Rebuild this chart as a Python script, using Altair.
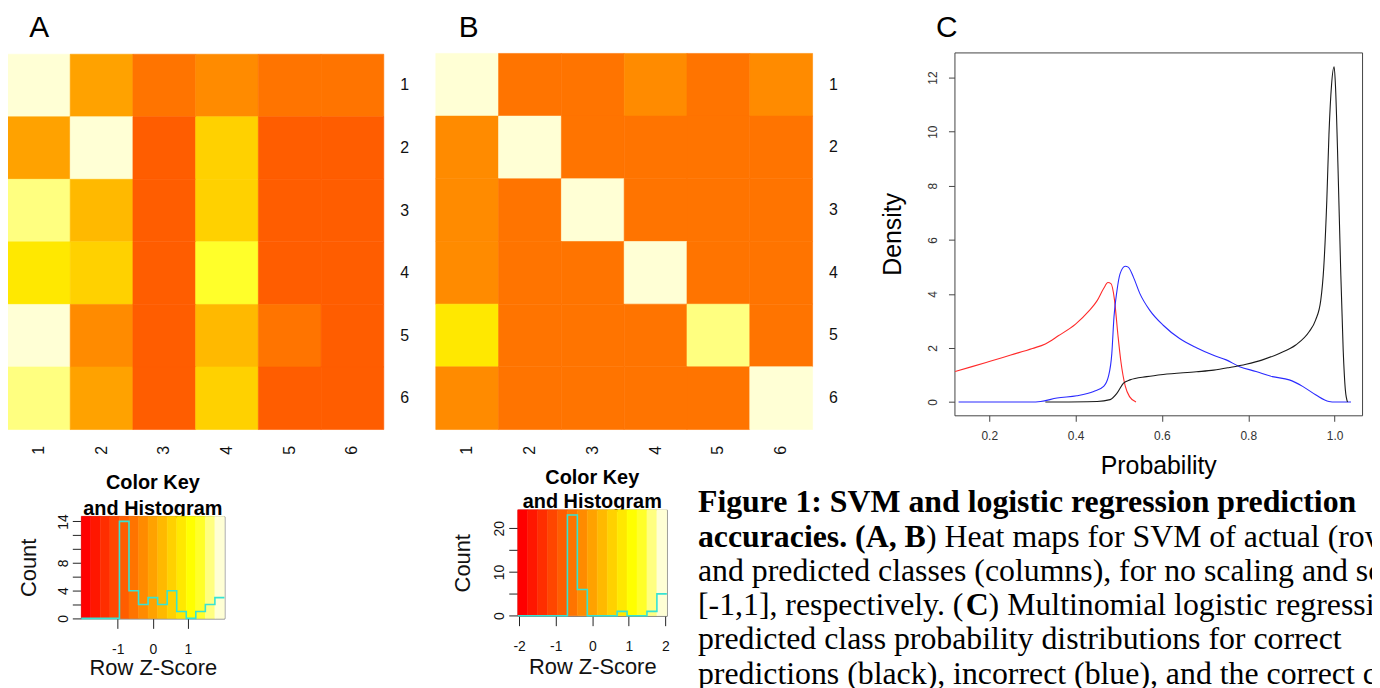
import altair as alt
import numpy as np
import pandas as pd

# ---------------- data ----------------
classes = ["1", "2", "3", "4", "5", "6"]

# Row z-scores of the SVM confusion matrices (rows = actual, columns = predicted)
zscore_a = [
    [1.92, 0.02, -0.52, -0.30, -0.55, -0.57],
    [0.05, 1.90, -0.80, 0.55, -0.85, -0.85],
    [1.62, 0.25, -0.82, 0.52, -0.78, -0.79],
    [0.80, 0.50, -0.83, 1.35, -0.86, -0.86],
    [1.90, -0.28, -0.84, 0.28, -0.55, -0.82],
    [1.60, 0.05, -0.82, 0.55, -0.80, -0.80],
]
zscore_b = [
    [2.00, -0.50, -0.50, -0.30, -0.50, -0.30],
    [-0.30, 2.00, -0.45, -0.45, -0.45, -0.45],
    [-0.30, -0.45, 2.00, -0.45, -0.45, -0.45],
    [-0.30, -0.45, -0.45, 2.00, -0.45, -0.45],
    [0.80, -0.60, -0.60, -0.60, 1.60, -0.60],
    [-0.30, -0.45, -0.45, -0.45, -0.45, 2.00],
]
z_limit = 2.04
n_bins = 15
heat_colors = ["#FF0000", "#FF1700", "#FF2E00", "#FF4600", "#FF5D00", "#FF7400",
               "#FF8B00", "#FFA200", "#FFB900", "#FFD100", "#FFE800", "#FFFF00",
               "#FFFF2A", "#FFFF80", "#FFFFD5"]

key_ticks_a = [-1, 0, 1]
key_ticks_b = [-2, -1, 0, 1, 2]
count_ticks_a = [0, 2, 4, 6, 8, 10, 12, 14]
count_labels_a = [0, 4, 8, 14]
count_ticks_b = [0, 5, 10, 15, 20]
count_labels_b = [0, 10, 20]

# Panel C: density of predicted class probability
correct_x = [0.33, 0.45, 0.48, 0.496, 0.511, 0.526, 0.565, 0.603, 0.68, 0.72, 0.757, 0.795,
             0.833, 0.872, 0.91, 0.941, 0.956, 0.968, 0.975, 0.982, 0.987, 0.993, 0.999,
             1.002, 1.008, 1.014, 1.020, 1.025, 1.030]
correct_y = [0.0, 0.02, 0.09, 0.33, 0.70, 0.82, 0.94, 1.02, 1.12, 1.18, 1.28, 1.40,
             1.56, 1.80, 2.11, 2.60, 3.03, 3.76, 4.99, 7.44, 9.89, 11.73, 12.40,
             11.73, 8.66, 4.99, 1.92, 0.45, 0.0]
incorrect_x = [0.129, 0.296, 0.319, 0.357, 0.403, 0.442, 0.465, 0.476, 0.484, 0.489, 0.496,
               0.503, 0.515, 0.522, 0.534, 0.549, 0.572, 0.603, 0.641, 0.68, 0.718, 0.749,
               0.78, 0.818, 0.856, 0.895, 0.926, 0.956, 0.987, 1.002, 1.038]
incorrect_y = [0.0, 0.0, 0.02, 0.15, 0.23, 0.39, 0.58, 0.94, 1.80, 3.15, 4.13,
               4.74, 5.02, 4.99, 4.62, 4.01, 3.39, 2.84, 2.35, 2.01, 1.74, 1.56,
               1.31, 1.13, 0.94, 0.82, 0.58, 0.27, 0.02, 0.0, 0.0]
other_x = [0.121, 0.16, 0.20, 0.25, 0.30, 0.33, 0.36, 0.40, 0.43, 0.45, 0.465, 0.475,
           0.482, 0.49, 0.498, 0.505, 0.515, 0.525, 0.54]
other_y = [1.13, 1.31, 1.50, 1.74, 1.98, 2.15, 2.45, 2.88, 3.35, 3.75, 4.20, 4.42,
           4.38, 3.80, 2.50, 1.50, 0.60, 0.20, 0.0]
prob_ticks = [0.2, 0.4, 0.6, 0.8, 1.0]
density_ticks = [0, 2, 4, 6, 8, 10, 12]
prob_limits = [0.1194, 1.0637]
density_limits = [-0.49, 12.93]

caption_lines = [
    [("Figure 1: SVM and logistic regression prediction", "bold")],
    [("accuracies. (A, B", "bold"), (") Heat maps for SVM of actual (rows)", "normal")],
    [("and predicted classes (columns), for no scaling and scaling to", "normal")],
    [("[-1,1], respectively. (", "normal"), ("C", "bold"), (") Multinomial logistic regression", "normal")],
    [("predicted class probability distributions for correct", "normal")],
    [("predictions (black), incorrect (blue), and the correct class", "normal")],
]

# ---------------- layout (page pixels) ----------------
M = 8
W, H = 1372, 680
SANS = "Liberation Sans"
SERIF = "Liberation Serif"
CAPTION_SIZE = 32
HM_A = dict(x0=7.5, x1=386.0, y0=52.5, y1=430.0)
HM_B = dict(x0=438.3, x1=817.3, y0=51.7, y1=430.0)
KEY_A = dict(x0=81.7, x1=225.7, y0=517.3, y1=620.0)
KEY_B = dict(x0=520.7, x1=670.7, y0=510.7, y1=617.3)
C_BOX = dict(x0=960.0, x1=1370.0, y0=50.7, y1=415.7)
caption_left = 702
caption_baseline = [513, 548, 582, 617, 651, 686]

# advance widths (1/1000 em) of the serif font, used to chain text runs
ADV_REGULAR = {"[": 333, "-": 333, "1": 500, ",": 250, "]": 333, " ": 250, "r": 333, "e": 444,
               "s": 389, "p": 500, "c": 444, "t": 278, "i": 278, "v": 500, "l": 278, "y": 500,
               ".": 250, "(": 333}
ADV_BOLD = {"a": 500, "c": 444, "u": 556, "r": 444, "i": 278, "e": 444, "s": 389, ".": 250,
            " ": 250, "(": 333, "A": 722, ",": 250, "B": 667, "C": 722}


def run_width(txt, weight):
    table = ADV_BOLD if weight == "bold" else ADV_REGULAR
    return sum(table.get(ch, 500) for ch in txt) * CAPTION_SIZE / 1000.0


def cx(v):
    return v - M


def cy(v):
    return v - M


breaks = np.linspace(-z_limit, z_limit, n_bins + 1)
color_scale = alt.Scale(type="threshold", domain=[float(b) for b in breaks[1:-1]], range=heat_colors)


def text_layer(txt, x, y, size, weight="normal", font=SANS, align="left", color="#000"):
    return alt.Chart(pd.DataFrame({"t": [txt]})).mark_text(
        font=font, fontSize=size, fontWeight=weight, align=align, baseline="alphabetic", color=color
    ).encode(text="t:N", x=alt.value(cx(x)), y=alt.value(cy(y)))


def heat_layer(z, box):
    df = pd.DataFrame([{"row": classes[i], "col": classes[j], "z": z[i][j]}
                       for i in range(6) for j in range(6)])
    return alt.Chart(df).mark_rect(strokeWidth=0.6).encode(
        x=alt.X("col:O", sort=classes,
                scale=alt.Scale(domain=classes, range=[cx(box["x0"]), cx(box["x1"])],
                                paddingInner=0, paddingOuter=0),
                axis=alt.Axis(orient="bottom", offset=cy(box["y1"]) - H, title=None, ticks=False,
                              tickSize=0, domain=False, labelAngle=270, labelPadding=16,
                              labelFontSize=16, labelColor="#111", labelOverlap=False)),
        y=alt.Y("row:O", sort=classes,
                scale=alt.Scale(domain=classes, range=[cy(box["y0"]), cy(box["y1"])],
                                paddingInner=0, paddingOuter=0),
                axis=alt.Axis(orient="right", offset=cx(box["x1"]) - W, title=None, ticks=False,
                              tickSize=0, domain=False, labelAngle=0, labelPadding=16,
                              labelFontSize=16, labelColor="#111", labelOverlap=False)),
        color=alt.Color("z:Q", scale=color_scale, legend=None),
        stroke=alt.Stroke("z:Q", scale=color_scale, legend=None),
    )


def key_layers(z, box, xticks, yticks, ylabels, count_title_x, zscore_title_y, title_y1, title_y2):
    counts = np.histogram(np.ravel(z), bins=breaks)[0]
    ymax = float(counts.max()) / 0.95
    xs = alt.Scale(domain=[-z_limit, z_limit], range=[cx(box["x0"]), cx(box["x1"])], nice=False, zero=False)
    ys = alt.Scale(domain=[0, ymax], range=[cy(box["y1"]), cy(box["y0"])], nice=False, zero=False)
    centre = (box["x0"] + box["x1"]) / 2
    titles = [text_layer("Color Key", centre, title_y1, 20, "bold", align="center"),
              text_layer("and Histogram", centre, title_y2, 20, "bold", align="center")]
    sdf = pd.DataFrame({"lo": breaks[:-1], "hi": breaks[1:],
                        "mid": (breaks[:-1] + breaks[1:]) / 2,
                        "base": 0.0, "top": ymax})
    label_expr = "indexof(" + str(ylabels) + ", datum.value) >= 0 ? '' + datum.value : ''"
    stripes = alt.Chart(sdf).mark_rect(strokeWidth=0.5).encode(
        x=alt.X("lo:Q", scale=xs,
                axis=alt.Axis(orient="bottom", offset=cy(box["y1"]) - H, values=xticks,
                              labelExpr="'' + datum.value",
                              tickSize=10, labelPadding=14, labelFontSize=14, labelColor="#111",
                              tickColor="#222", domainColor="#555", title="Row Z-Score",
                              titleFontSize=22, titleFontWeight="normal", titleColor="#111",
                              titleY=zscore_title_y, titleBaseline="alphabetic", labelOverlap=False)),
        x2="hi:Q",
        y=alt.Y("base:Q", scale=ys,
                axis=alt.Axis(orient="left", offset=-cx(box["x0"]), values=yticks, labelExpr=label_expr,
                              labelAngle=270, tickSize=9, labelPadding=2, labelFontSize=14,
                              labelColor="#111", tickColor="#222", domainColor="#555", title="Count",
                              titleFontSize=22, titleFontWeight="normal", titleColor="#111",
                              titleAngle=270, titleX=count_title_x, titleBaseline="alphabetic",
                              labelOverlap=False)),
        y2="top:Q",
        color=alt.Color("mid:Q", scale=color_scale, legend=None),
        stroke=alt.Stroke("mid:Q", scale=color_scale, legend=None),
    )
    hdf = pd.DataFrame({"edge": breaks, "count": list(counts) + [counts[-1]]})
    hist = alt.Chart(hdf).mark_line(interpolate="step-after", color="#36E3D3", strokeWidth=1.6).encode(
        x=alt.X("edge:Q", scale=xs,
                axis=alt.Axis(orient="top", offset=-cy(box["y0"]), labels=False, ticks=False,
                              title=None, domainColor="#444")),
        y=alt.Y("count:Q", scale=ys,
                axis=alt.Axis(orient="right", offset=cx(box["x1"]) - W, labels=False, ticks=False,
                              title=None, domainColor="#777")),
    )
    return titles + [stripes, hist]


# ---------------- panel C ----------------
xC = alt.Scale(domain=prob_limits, range=[cx(C_BOX["x0"]), cx(C_BOX["x1"])], nice=False, zero=False)
yC = alt.Scale(domain=density_limits, range=[cy(C_BOX["y1"]), cy(C_BOX["y0"])], nice=False, zero=False)


def density_df(xs, ys):
    return pd.DataFrame({"p": xs, "d": ys})


correct_line = alt.Chart(density_df(correct_x, correct_y)).mark_line(
    color="#1a1a1a", strokeWidth=1.1, interpolate="monotone", clip=True).encode(
    x=alt.X("p:Q", scale=xC,
            axis=alt.Axis(orient="bottom", offset=cy(C_BOX["y1"]) - H, values=prob_ticks, format=".1f",
                          tickSize=6, labelPadding=9, labelFontSize=12, labelColor="#333",
                          tickColor="#444", domainColor="#444", title="Probability",
                          titleFontSize=25, titleFontWeight="normal", titleColor="#000",
                          titleY=59, titleBaseline="alphabetic", labelOverlap=False)),
    y=alt.Y("d:Q", scale=yC,
            axis=alt.Axis(orient="left", offset=-cx(C_BOX["x0"]), values=density_ticks,
                          labelAngle=270, tickSize=6, labelPadding=9, labelFontSize=12,
                          labelColor="#333", tickColor="#444", domainColor="#444", title="Density",
                          titleFontSize=25, titleFontWeight="normal", titleColor="#000",
                          titleAngle=270, titleX=-54, titleBaseline="alphabetic", labelOverlap=False)),
)
incorrect_line = alt.Chart(density_df(incorrect_x, incorrect_y)).mark_line(
    color="#2a2aff", strokeWidth=1.1, interpolate="monotone", clip=True).encode(
    x=alt.X("p:Q", scale=xC,
            axis=alt.Axis(orient="top", offset=-cy(C_BOX["y0"]), labels=False, ticks=False,
                          title=None, domainColor="#444")),
    y=alt.Y("d:Q", scale=yC,
            axis=alt.Axis(orient="right", offset=cx(C_BOX["x1"]) - W, labels=False, ticks=False,
                          title=None, domainColor="#444")),
)
other_line = alt.Chart(density_df(other_x, other_y)).mark_line(
    color="#ff2a2a", strokeWidth=1.1, interpolate="monotone", clip=True).encode(
    x=alt.X("p:Q", scale=xC, axis=None),
    y=alt.Y("d:Q", scale=yC, axis=None),
)

# ---------------- text ----------------
texts = [
    text_layer("A", 29.5, 35, 30),
    text_layer("B", 461.5, 35, 30),
    text_layer("C", 941.5, 35, 30),
]
for segs, base in zip(caption_lines, caption_baseline):
    x0 = caption_left
    for txt, wt in segs:
        texts.append(text_layer(txt, x0, base, CAPTION_SIZE, wt, font=SERIF))
        x0 += run_width(txt, wt)

layers = (
    [heat_layer(zscore_a, HM_A), heat_layer(zscore_b, HM_B)]
    + key_layers(zscore_a, KEY_A, key_ticks_a, count_ticks_a, count_labels_a, -45.7, 56, 490, 516)
    + key_layers(zscore_b, KEY_B, key_ticks_b, count_ticks_b, count_labels_b, -48.7, 57.7, 485, 508.5)
    + [other_line, incorrect_line, correct_line]
    + texts
)

chart = alt.layer(*layers).resolve_scale(
    x="independent", y="independent", color="shared", stroke="shared"
).resolve_axis(x="independent", y="independent").properties(
    width=W, height=H, padding=0, autosize=alt.AutoSizeParams(type="none")
).configure_view(stroke=None).configure_axis(
    grid=False, labelFont=SANS, titleFont=SANS
)

chart.save("out.html", embed_options={"renderer": "svg", "actions": False})
